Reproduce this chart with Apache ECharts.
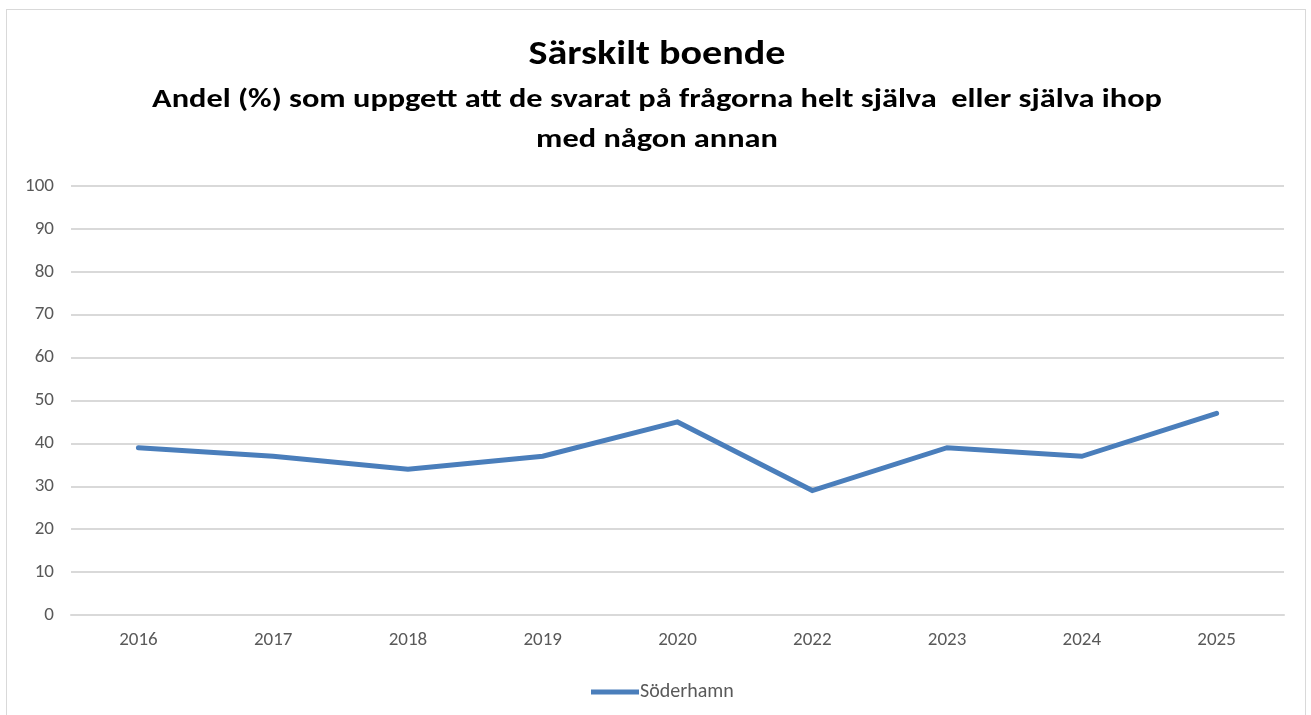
<!DOCTYPE html>
<html>
<head>
<meta charset="utf-8">
<script src="https://cdn.jsdelivr.net/npm/echarts@6/dist/echarts.min.js"></script>
<style>
html,body{margin:0;padding:0;background:#fff;}
#frame{position:absolute;left:6px;top:9px;width:1300px;height:720px;border:1px solid #d9d9d9;box-sizing:border-box;}
#chart{width:1311px;height:715px;position:absolute;left:0;top:0;}
</style>
</head>
<body>
<div id="frame"></div>
<div id="chart"></div>
<script>
var years = ['2016','2017','2018','2019','2020','2022','2023','2024','2025']
var soderhamn = [39, 37, 34, 37, 45, 29, 39, 37, 47]
var yTicks = [0, 100, 10]  // min, max, step
var titleLines = [
    'Särskilt boende',
    'Andel (%) som uppgett att de svarat på frågorna helt själva  eller själva ihop',
    'med någon annan'
]

var myChart = echarts.init(document.getElementById('chart'))
var font = 'Carlito, Calibri, "Liberation Sans Narrow", "Open Sans", sans-serif'

function titleText(txt, y, size, sx){
    return {
        type: 'text', x: 657, y: y, scaleX: sx,
        style: {text: txt, fontFamily: font, fontSize: size, fontWeight: 'bold', fill: '#000',
                textAlign: 'center', textVerticalAlign: 'middle'}
    }
}

var option = {
    animation: false,
    graphic: [
        titleText(titleLines[0], 55, 34, 1.18),
        titleText(titleLines[1], 100, 26, 1.245),
        titleText(titleLines[2], 140, 26, 1.245)
    ],
    legend: {
        top: 677,
        left: 586,
        itemWidth: 48,
        itemHeight: 5,
        icon: 'rect',
        itemGap: 4,
        textStyle: {fontFamily: font, fontSize: 20, color: '#595959', padding: [0, 0, 0, -4]},
        data: ['Söderhamn']
    },
    grid: {left: 71, right: 27, top: 186, bottom: 100, containLabel: false},
    xAxis: {
        type: 'category',
        data: years,
        boundaryGap: true,
        axisLine: {show: true, lineStyle: {color: '#d9d9d9', width: 2}},
        axisTick: {show: false},
        axisLabel: {fontFamily: font, fontSize: 19, color: '#595959', margin: 16}
    },
    yAxis: {
        type: 'value',
        min: yTicks[0], max: yTicks[1], interval: yTicks[2],
        axisLine: {show: false},
        axisTick: {show: false},
        axisLabel: {fontFamily: font, fontSize: 19, color: '#595959', margin: 17},
        splitLine: {lineStyle: {color: '#d9d9d9', width: 2}}
    },
    series: [{
        name: 'Söderhamn',
        type: 'line',
        data: soderhamn,
        symbol: 'none',
        color: '#4a7ebb',
        lineStyle: {width: 5, color: '#4a7ebb', cap: 'round', join: 'miter'}
    }]
}
myChart.setOption(option)
</script>
</body>
</html>
